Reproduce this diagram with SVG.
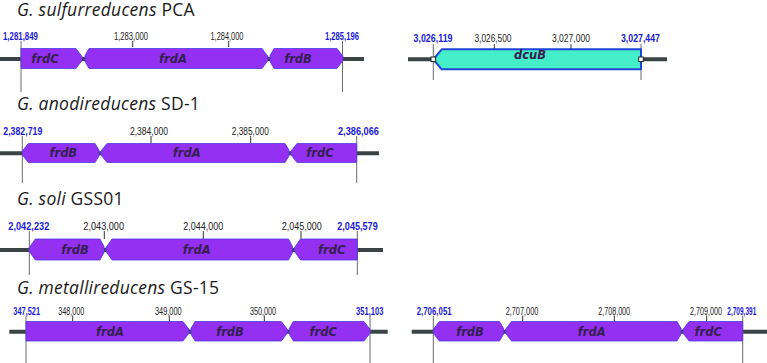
<svg xmlns="http://www.w3.org/2000/svg" width="767" height="363" viewBox="0 0 767 363">
<style>
.bg{fill:#ffffff}
.title{font-family:"Open Sans","Liberation Sans",sans-serif;font-size:17.5px;letter-spacing:0.25px;fill:#1a1a1a}
.it{font-style:italic}
.bb{stroke:#3b4444;stroke-width:4;fill:none}
.vl{stroke:#6a6a6a;stroke-width:1;fill:none}
.tk{stroke:#333333;stroke-width:1;fill:none}
.gene{fill:#9430f2;stroke:#4a3ae6;stroke-width:0.8;stroke-linejoin:round}
.dcu{fill:#44eec8;stroke:#1f44d6;stroke-width:2;stroke-linejoin:round}
.gl{font-family:"DejaVu Sans","Liberation Sans",sans-serif;font-size:11.5px;font-style:italic;font-weight:bold;fill:#33204f;text-anchor:middle}
.num{font-family:"Liberation Sans",sans-serif;font-size:10px;fill:#222222;text-anchor:middle}
.end{font-family:"Liberation Sans",sans-serif;font-size:10px;font-weight:bold;fill:#1b1bd6;text-anchor:middle}
.mk{fill:#ffffff;stroke:#222222;stroke-width:1}
</style>
<rect class="bg" x="0" y="0" width="767" height="363"/>

<g id="track-sulfurreducens">
  <text class="title" x="17" y="15.5"><tspan class="it">G. sulfurreducens</tspan> PCA</text>
  <line class="bb" x1="0" y1="59" x2="364" y2="59"/>
  <line class="vl" x1="21" y1="41" x2="21" y2="92"/>
  <line class="vl" x1="342.5" y1="41" x2="342.5" y2="92"/>
  <line class="tk" x1="132.7" y1="41" x2="132.7" y2="47"/>
  <line class="tk" x1="228.7" y1="41" x2="228.7" y2="47"/>
  <text class="end" x="20.5" y="39.5" textLength="35" lengthAdjust="spacingAndGlyphs">1,281,849</text>
  <text class="num" x="131" y="39.5" textLength="34" lengthAdjust="spacingAndGlyphs">1,283,000</text>
  <text class="num" x="227" y="39.5" textLength="33" lengthAdjust="spacingAndGlyphs">1,284,000</text>
  <text class="end" x="342" y="39.5" textLength="34" lengthAdjust="spacingAndGlyphs">1,285,196</text>
  <g id="sul-frdC"><polygon class="gene" points="21,48.5 76,48.5 82,56.5 82,60.5 76,68.5 21,68.5"/><text class="gl" x="45" y="62.5">frdC</text></g>
  <g id="sul-frdA"><polygon class="gene" points="89,48.5 262,48.5 268,56.5 268,60.5 262,68.5 89,68.5 85,61.5 85,55.5"/><text class="gl" x="173" y="62.5">frdA</text></g>
  <g id="sul-frdB"><polygon class="gene" points="274,48.5 337,48.5 343,56.5 343,60.5 337,68.5 274,68.5 270,61.5 270,55.5"/><text class="gl" x="298" y="62.5">frdB</text></g>
</g>

<g id="track-dcuB">
  <line class="bb" x1="408" y1="59.3" x2="667" y2="59.3"/>
  <line class="vl" x1="433.3" y1="44" x2="433.3" y2="80"/>
  <line class="vl" x1="641" y1="44" x2="641" y2="80"/>
  <line class="tk" x1="494.3" y1="44" x2="494.3" y2="49.3"/>
  <line class="tk" x1="571" y1="44" x2="571" y2="49.3"/>
  <text class="end" x="433" y="41.7" textLength="39" lengthAdjust="spacingAndGlyphs">3,026,119</text>
  <text class="num" x="493" y="41.7" textLength="37" lengthAdjust="spacingAndGlyphs">3,026,500</text>
  <text class="num" x="571" y="41.7" textLength="38" lengthAdjust="spacingAndGlyphs">3,027,000</text>
  <text class="end" x="640.5" y="41.7" textLength="39" lengthAdjust="spacingAndGlyphs">3,027,447</text>
  <g id="dcuB"><polygon class="dcu" points="433.3,59.3 441.7,49.3 641,49.3 641,69.3 441.7,69.3"/><text class="gl" x="530" y="58.5">dcuB</text></g>
  <rect class="mk" x="431" y="57" width="4.6" height="4.6"/>
  <rect class="mk" x="638.7" y="57" width="4.6" height="4.6"/>
</g>

<g id="track-anodireducens">
  <text class="title" x="17" y="109.5"><tspan class="it">G. anodireducens</tspan> SD-1</text>
  <line class="bb" x1="0" y1="153.3" x2="379" y2="153.3"/>
  <line class="vl" x1="22.3" y1="136" x2="22.3" y2="183"/>
  <line class="vl" x1="356.7" y1="136" x2="356.7" y2="183"/>
  <line class="tk" x1="151" y1="136" x2="151" y2="143"/>
  <line class="tk" x1="250.7" y1="136" x2="250.7" y2="143"/>
  <text class="end" x="22.8" y="135" textLength="39" lengthAdjust="spacingAndGlyphs">2,382,719</text>
  <text class="num" x="149" y="135" textLength="38" lengthAdjust="spacingAndGlyphs">2,384,000</text>
  <text class="num" x="250.3" y="135" textLength="37" lengthAdjust="spacingAndGlyphs">2,385,000</text>
  <text class="end" x="358.5" y="135" textLength="41" lengthAdjust="spacingAndGlyphs">2,386,066</text>
  <g id="ano-frdB"><polygon class="gene" points="22.3,151 28.3,143.5 95,143.5 99,150 99,156 95,162.5 28.3,162.5 22.3,155"/><text class="gl" x="63.3" y="157">frdB</text></g>
  <g id="ano-frdA"><polygon class="gene" points="101,151 107,143.5 285,143.5 289,150 289,156 285,162.5 107,162.5 101,155"/><text class="gl" x="186.7" y="157">frdA</text></g>
  <g id="ano-frdC"><polygon class="gene" points="291,151 297,143.5 356.7,143.5 356.7,162.5 297,162.5 291,155"/><text class="gl" x="320" y="157">frdC</text></g>
</g>

<g id="track-soli">
  <text class="title" x="17" y="205"><tspan class="it">G. soli</tspan> GSS01</text>
  <line class="bb" x1="0" y1="250" x2="383" y2="250"/>
  <line class="vl" x1="29.3" y1="231" x2="29.3" y2="275"/>
  <line class="vl" x1="357.3" y1="231" x2="357.3" y2="275"/>
  <line class="tk" x1="104.3" y1="231" x2="104.3" y2="239"/>
  <line class="tk" x1="203.3" y1="231" x2="203.3" y2="239"/>
  <line class="tk" x1="301" y1="231" x2="301" y2="239"/>
  <text class="end" x="28.8" y="230" textLength="41" lengthAdjust="spacingAndGlyphs">2,042,232</text>
  <text class="num" x="103.7" y="230" textLength="40.7" lengthAdjust="spacingAndGlyphs">2,043,000</text>
  <text class="num" x="203.3" y="230" textLength="40" lengthAdjust="spacingAndGlyphs">2,044,000</text>
  <text class="num" x="301.7" y="230" textLength="40" lengthAdjust="spacingAndGlyphs">2,045,000</text>
  <text class="end" x="357.5" y="230" textLength="40.4" lengthAdjust="spacingAndGlyphs">2,045,579</text>
  <g id="sol-frdB"><polygon class="gene" points="29.3,247.5 35.3,239 100,239 104,246.5 104,252.5 100,260 35.3,260 29.3,251.5"/><text class="gl" x="75" y="253.5">frdB</text></g>
  <g id="sol-frdA"><polygon class="gene" points="106,247.5 112,239 288.5,239 292.5,246.5 292.5,252.5 288.5,260 112,260 106,251.5"/><text class="gl" x="196.7" y="253.5">frdA</text></g>
  <g id="sol-frdC"><polygon class="gene" points="294.5,247.5 300.5,239 357.3,239 357.3,260 300.5,260 294.5,251.5"/><text class="gl" x="331.7" y="253.5">frdC</text></g>
</g>

<g id="track-metallireducens-1">
  <text class="title" x="17" y="294"><tspan class="it">G. metallireducens</tspan> GS-15</text>
  <line class="bb" x1="9.3" y1="331.7" x2="387.7" y2="331.7"/>
  <line class="vl" x1="26" y1="315.5" x2="26" y2="363"/>
  <line class="vl" x1="370" y1="315.5" x2="370" y2="363"/>
  <line class="tk" x1="72.7" y1="315.5" x2="72.7" y2="321.5"/>
  <line class="tk" x1="169.3" y1="315.5" x2="169.3" y2="321.5"/>
  <line class="tk" x1="264.3" y1="315.5" x2="264.3" y2="321.5"/>
  <text class="end" x="26.7" y="314.5" textLength="26.7" lengthAdjust="spacingAndGlyphs">347,521</text>
  <text class="num" x="71.3" y="314.5" textLength="26" lengthAdjust="spacingAndGlyphs">348,000</text>
  <text class="num" x="168.3" y="314.5" textLength="26.7" lengthAdjust="spacingAndGlyphs">349,000</text>
  <text class="num" x="263" y="314.5" textLength="26" lengthAdjust="spacingAndGlyphs">350,000</text>
  <text class="end" x="369.7" y="314.5" textLength="27.3" lengthAdjust="spacingAndGlyphs">351,103</text>
  <g id="met1-frdA"><polygon class="gene" points="26,321.5 183,321.5 189,329.3 189,333.3 183,341 26,341"/><text class="gl" x="110" y="335.5">frdA</text></g>
  <g id="met1-frdB"><polygon class="gene" points="195,321.5 281.3,321.5 287.3,329.3 287.3,333.3 281.3,341 195,341 191,334.3 191,328.3"/><text class="gl" x="230" y="335.5">frdB</text></g>
  <g id="met1-frdC"><polygon class="gene" points="293.3,321.5 364,321.5 370,329.3 370,333.3 364,341 293.3,341 289.3,334.3 289.3,328.3"/><text class="gl" x="323.3" y="335.5">frdC</text></g>
</g>

<g id="track-metallireducens-2">
  <line class="bb" x1="411.7" y1="331.7" x2="767" y2="331.7"/>
  <line class="vl" x1="433.3" y1="315.5" x2="433.3" y2="363"/>
  <line class="vl" x1="742.7" y1="315.5" x2="742.7" y2="363"/>
  <line class="tk" x1="522.7" y1="315.5" x2="522.7" y2="321.5"/>
  <line class="tk" x1="614.3" y1="315.5" x2="614.3" y2="321.5"/>
  <line class="tk" x1="706.7" y1="315.5" x2="706.7" y2="321.5"/>
  <text class="end" x="434.2" y="314.5" textLength="35" lengthAdjust="spacingAndGlyphs">2,706,051</text>
  <text class="num" x="522" y="314.5" textLength="32.6" lengthAdjust="spacingAndGlyphs">2,707,000</text>
  <text class="num" x="614.2" y="314.5" textLength="31.7" lengthAdjust="spacingAndGlyphs">2,708,000</text>
  <text class="num" x="706" y="314.5" textLength="32" lengthAdjust="spacingAndGlyphs">2,709,000</text>
  <text class="end" x="741.8" y="314.5" textLength="29" lengthAdjust="spacingAndGlyphs">2,709,391</text>
  <g id="met2-frdB"><polygon class="gene" points="433.3,329.3 439.3,321.5 499.5,321.5 503.5,328.3 503.5,334.3 499.5,341 439.3,341 433.3,333.3"/><text class="gl" x="470" y="335.5">frdB</text></g>
  <g id="met2-frdA"><polygon class="gene" points="505.5,329.3 511.5,321.5 677,321.5 681,328.3 681,334.3 677,341 511.5,341 505.5,333.3"/><text class="gl" x="591.7" y="335.5">frdA</text></g>
  <g id="met2-frdC"><polygon class="gene" points="683,329.3 689,321.5 742.7,321.5 742.7,341 689,341 683,333.3"/><text class="gl" x="708.3" y="335.5">frdC</text></g>
</g>
</svg>
